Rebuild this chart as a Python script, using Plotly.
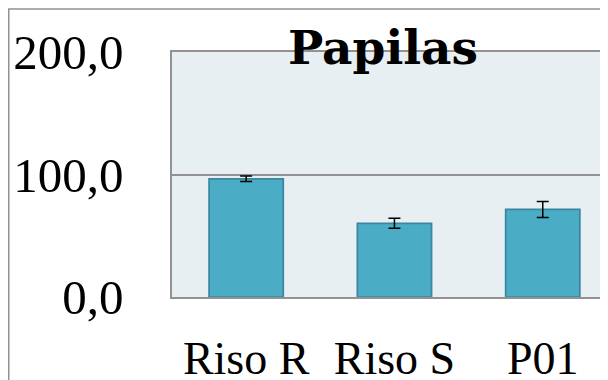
import plotly.graph_objects as go

categories = ["Riso R", "Riso S", "P01"]
values = [96.5, 60.2, 71.5]
errors = [2.3, 4.0, 6.5]
y_ticks = [0, 100, 200]

# page body adds an 8px offset; figure coordinates below are in figure pixels
W, H = 608, 380
L, R, T, B = 164, 0, 44, 91
pw, ph = W - L - R, H - T - B

fig = go.Figure(go.Bar(
    x=categories, y=values,
    marker=dict(color="#4BACC6", line=dict(color="#3A86A0", width=1.75)),
    error_y=dict(type="data", array=errors, color="#000000", thickness=1.5, width=6),
    width=0.5,
))

fig.update_layout(
    width=W, height=H,
    margin=dict(l=L, r=R, t=T, b=B, pad=0, autoexpand=False),
    paper_bgcolor="#FFFFFF",
    plot_bgcolor="#E8EFF3",
    separators=",.",
    showlegend=False,
    font=dict(family="Liberation Serif", color="#000000"),
    title=dict(text="<b>Papilas</b>", font=dict(size=47, family="DejaVu Serif", color="#000000"),
               xref="paper", x=(375 - L) / pw, xanchor="center",
               yref="container", y=1 - 40 / H, yanchor="middle", automargin=False),
    xaxis=dict(range=[-0.5, -0.5 + pw / 148.3], showline=True, mirror=True, automargin=False,
               linecolor="#929292", linewidth=1.5, showgrid=False, zeroline=False,
               ticks="outside", ticklen=20, tickcolor="rgba(0,0,0,0)",
               tickfont=dict(size=46, family="Liberation Serif")),
    yaxis=dict(range=[0, 200], tickvals=y_ticks, tickformat=".1f", showline=True, mirror=False,
               automargin=False,
               linecolor="#929292", linewidth=1.5, showgrid=True, gridcolor="#929292",
               gridwidth=1.5, zeroline=False,
               ticks="outside", ticklen=37, tickcolor="rgba(0,0,0,0)",
               tickfont=dict(size=49, family="Liberation Serif")),
    shapes=[dict(type="rect", xref="paper", yref="paper",
                 x0=(0.75 - L) / pw, x1=1.2, y0=-0.5, y1=1 + (T - 1) / ph,
                 line=dict(color="#929292", width=1.5), fillcolor="rgba(0,0,0,0)", layer="below")],
)

fig.write_html("out.html")
